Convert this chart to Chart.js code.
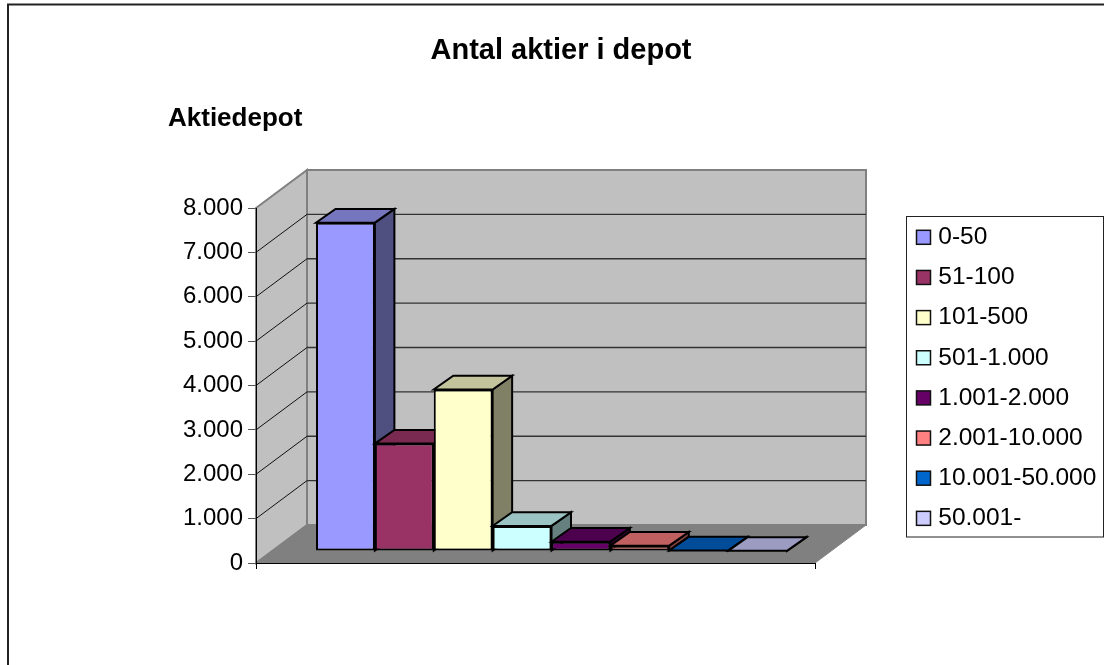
<!DOCTYPE html>
<html><head><meta charset="utf-8">
<style>html,body{margin:0;padding:0;background:#fff}#c{display:block}</style>
<script src="https://cdn.jsdelivr.net/npm/chart.js@4/dist/chart.umd.min.js"></script>
</head><body><canvas id="c" width="1104" height="665" style="width:1104px;height:665px"></canvas>
<script>
const chartTitle = 'Antal aktier i depot';
const axisTitle = 'Aktiedepot';
const seriesNames = ['0-50','51-100','101-500','501-1.000','1.001-2.000','2.001-10.000','10.001-50.000','50.001-'];
const seriesValues = [7400,2420,3640,565,210,120,10,3];
const seriesColors = ['#9999FF','#993366','#FFFFCC','#CCFFFF','#660066','#FF8080','#0066CC','#CCCCFF'];
const topColors = ['#7676BF','#7A2A50','#C3C39C','#9CC3C3','#4D004D','#C06060','#004C99','#9C9CC3'];
const sideColors = ['#4F4F80','#4D1A33','#808066','#668080','#330033','#804040','#003366','#666680'];
const yMax = 8000, yStep = 1000;
const FONT = '"Liberation Sans", Arial, sans-serif';
const WALL = {dx:51, dy:38}, BAR = {dx:16, dy:12}, DEPTH = {dx:19.5, dy:13.7};

function poly(ctx, pts, fill, stroke, lw){
  ctx.beginPath();
  pts.forEach((p,i)=> i?ctx.lineTo(p[0],p[1]):ctx.moveTo(p[0],p[1]));
  ctx.closePath();
  if(fill){ctx.fillStyle=fill;ctx.fill();}
  if(stroke){ctx.strokeStyle=stroke;ctx.lineWidth=lw;ctx.lineJoin='miter';ctx.stroke();}
}
const scene = {
  id:'scene',
  afterLayout(chart){
    const titles = chart.boxes.filter(b=>b.constructor && b.options && b.options.text!==undefined);
    titles.forEach(t=>{
      if(t.options.text===chartTitle){t.left=0;t.right=1122;}
      else {t.left=168;t.right=500;}
    });
    const lg = chart.legend;
    lg.left=900.35; lg.top=209.4; lg.right=1104; lg.bottom=660; lg.width=203.65; lg.height=450.6;
  },
  beforeDraw(chart){
    const c=chart.ctx, a=chart.chartArea, y=chart.scales.y;
    c.save();
    c.fillStyle='#fff';c.fillRect(0,0,chart.width,chart.height);
    c.strokeStyle='#222';c.lineWidth=2;
    c.beginPath();c.moveTo(8,665);c.lineTo(8,4.5);c.lineTo(1104,4.5);c.stroke();
    const L=a.left,R=a.right,T=a.top,B=a.bottom,dx=WALL.dx,dy=WALL.dy;
    poly(c,[[L+dx,T-dy],[R+dx,T-dy],[R+dx,B-dy],[L+dx,B-dy]],'#C0C0C0','#808080',2);
    poly(c,[[L,T],[L+dx,T-dy],[L+dx,B-dy],[L,B]],'#C0C0C0','#808080',2);
    poly(c,[[L,B],[R,B],[R+dx,B-dy],[L+dx,B-dy]],'#808080','#808080',1);
    y.ticks.forEach(t=>{
      const p=y.getPixelForValue(t.value);
      if(t.value===0||t.value>=yMax) return;
      c.strokeStyle='#333';c.lineWidth=1.4;
      c.beginPath();c.moveTo(L+dx,p-dy);c.lineTo(R+dx,p-dy);c.stroke();
      c.strokeStyle='#111';c.lineWidth=1;
      c.beginPath();c.moveTo(L,p);c.lineTo(L+dx,p-dy);c.stroke();
    });
    c.strokeStyle='#222';c.lineWidth=1;c.strokeRect(906.5,216.5,197,320.5);
    c.restore();
  },
  beforeDatasetsDraw(chart){
    const c=chart.ctx;
    c.save();
    c.translate(BAR.dx,-BAR.dy);
    chart.data.datasets.forEach((ds,i)=>{
      const meta=chart.getDatasetMeta(i), el=meta.data[0];
      const l=el.x-el.width/2, r=el.x+el.width/2, t=el.y, b=el.base;
      poly(c,[[r,t],[r+DEPTH.dx,t-DEPTH.dy],[r+DEPTH.dx,b-DEPTH.dy],[r,b]],sideColors[i],'#000',2);
      poly(c,[[l,t],[r,t],[r+DEPTH.dx,t-DEPTH.dy],[l+DEPTH.dx,t-DEPTH.dy]],topColors[i],'#000',2);
      meta.controller.draw();
    });
    c.restore();
    return false;
  },
  afterDraw(chart){
    const c=chart.ctx, lg=chart.legend;
    c.save();
    lg.legendHitBoxes.forEach((h,i)=>{
      const cy=h.top+h.height/2;
      c.fillStyle=seriesColors[i];c.strokeStyle='#111';c.lineWidth=1.5;
      c.fillRect(916.5,cy-7,14,14);c.strokeRect(916.5,cy-7,14,14);
    });
    c.restore();
  }
};
new Chart(document.getElementById('c'),{
  type:'bar',
  data:{labels:[''],datasets:seriesNames.map((n,i)=>({
    label:n,data:[seriesValues[i]],backgroundColor:seriesColors[i],borderColor:'#000',borderWidth:2,borderSkipped:false,
    categoryPercentage:0.8425,barPercentage:1
  }))},
  options:{
    responsive:false,animation:false,
    layout:{padding:{left:0,right:289,top:0,bottom:94}},
    plugins:{
      tooltip:{enabled:false},
      title:{display:true,text:chartTitle,color:'#000',font:{family:FONT,size:29,weight:'bold'},padding:{top:33.6,bottom:0}},
      subtitle:{display:true,text:axisTitle,align:'start',color:'#000',font:{family:FONT,size:26,weight:'bold'},padding:{top:35,bottom:73.4}},
      legend:{display:true,position:'chartArea',align:'start',
        labels:{boxWidth:10.05,boxHeight:14,padding:15.65,color:'#000',font:{family:FONT,size:24.5},
          generateLabels:chart=>chart.data.datasets.map((d,i)=>({text:d.label,fillStyle:'rgba(0,0,0,0)',strokeStyle:'rgba(0,0,0,0)',lineWidth:0,datasetIndex:i,hidden:false,fontColor:'#000'}))}}
    },
    scales:{
      x:{type:'category',offset:true,
        afterFit(s){s.height=8;},
        border:{display:true,color:'#000',width:1},
        grid:{display:true,offset:true,drawOnChartArea:false,drawTicks:true,tickLength:6,color:'#000'},
        ticks:{display:false}},
      y:{min:0,max:yMax,
        afterFit(s){s.width=256;},
        border:{display:true,color:'#000',width:1},
        grid:{drawOnChartArea:false,drawTicks:true,tickLength:8,color:'#555'},
        ticks:{stepSize:yStep,padding:5,color:'#000',font:{family:FONT,size:24},
          callback:v=>v===0?'0':(v/1000)+'.000'}}
    }
  },
  plugins:[scene]
});
</script></body></html>
